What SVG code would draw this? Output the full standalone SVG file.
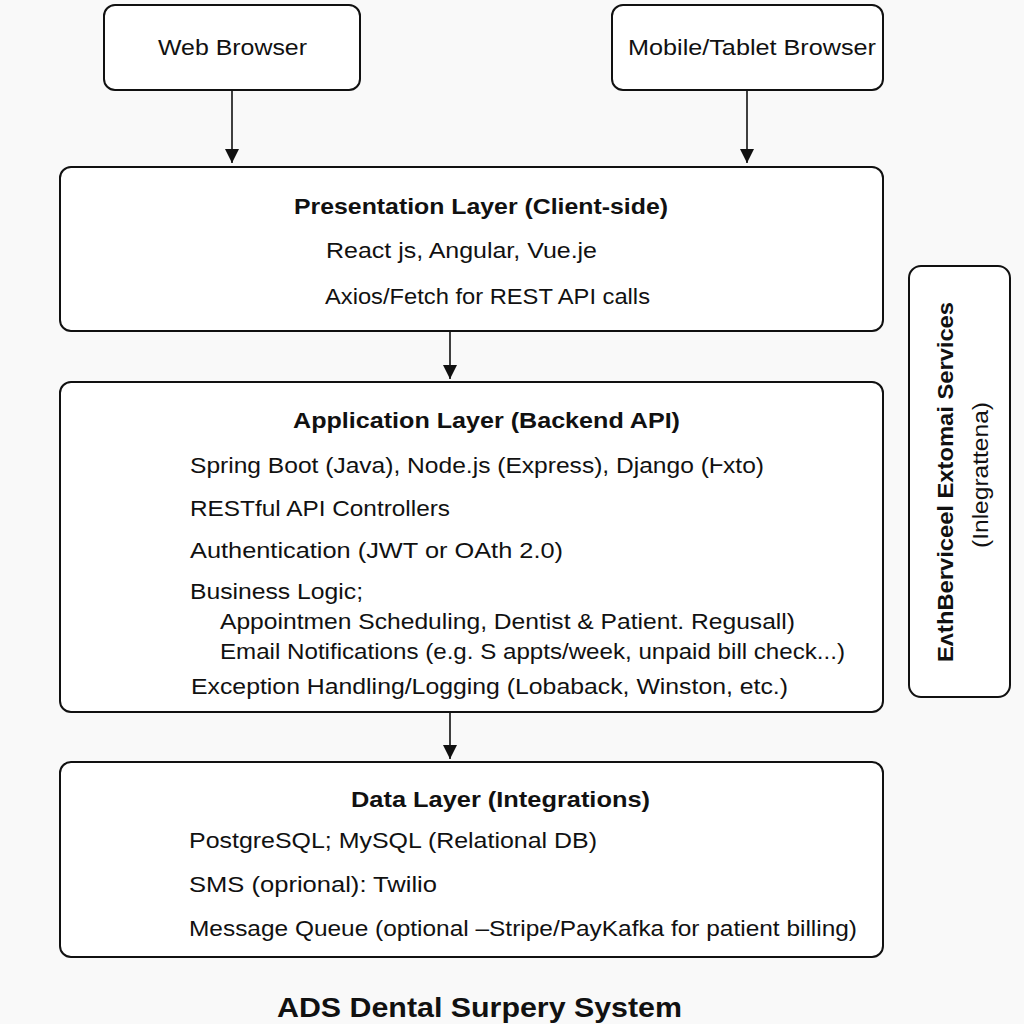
<svg xmlns="http://www.w3.org/2000/svg" width="1024" height="1024" viewBox="0 0 1024 1024">
<style>
.box{fill:#fff;stroke:#111;stroke-width:2}
.t{font-family:"Liberation Sans",Arial,sans-serif;font-size:22px;fill:#111}
.b{font-family:"Liberation Sans",Arial,sans-serif;font-size:22px;font-weight:bold;fill:#111}
.c{stroke:#111;stroke-width:1.6;fill:none}
</style>
<defs>
<marker id="a" viewBox="0 0 14 14" refX="14" refY="7" markerWidth="14" markerHeight="14" orient="auto" markerUnits="userSpaceOnUse">
<path d="M0,0 L14,7 L0,14 z" fill="#111"/>
</marker>
</defs>
<rect width="1024" height="1024" fill="#f9f9f9"/>
<g id="connectors">
<line class="c" x1="232" y1="90" x2="232" y2="163" marker-end="url(#a)"/>
<line class="c" x1="747" y1="90" x2="747" y2="163" marker-end="url(#a)"/>
<line class="c" x1="450" y1="331" x2="450" y2="379" marker-end="url(#a)"/>
<line class="c" x1="450" y1="712" x2="450" y2="759" marker-end="url(#a)"/>
</g>
<g id="web-browser">
<rect class="box" x="104" y="5" width="256" height="85" rx="11"/>
<text class="t" x="158" y="55" textLength="149" lengthAdjust="spacingAndGlyphs">Web Browser</text>
</g>
<g id="mobile-browser">
<rect class="box" x="612" y="5" width="271" height="85" rx="11"/>
<text class="t" x="628" y="55" textLength="248" lengthAdjust="spacingAndGlyphs">Mobile/Tablet Browser</text>
</g>
<g id="presentation-layer">
<rect class="box" x="60" y="167" width="823" height="164" rx="11"/>
<text class="b" x="294" y="214" textLength="374" lengthAdjust="spacingAndGlyphs">Presentation Layer (Client-side)</text>
<text class="t" x="326" y="258" textLength="271" lengthAdjust="spacingAndGlyphs">React js, Angular, Vue.je</text>
<text class="t" x="325" y="304" textLength="325" lengthAdjust="spacingAndGlyphs">Axios/Fetch for REST API calls</text>
</g>
<g id="application-layer">
<rect class="box" x="60" y="382" width="823" height="330" rx="11"/>
<text class="b" x="293" y="428" textLength="387" lengthAdjust="spacingAndGlyphs">Application Layer (Backend API)</text>
<text class="t" x="190" y="473" textLength="574" lengthAdjust="spacingAndGlyphs">Spring Boot (Java), Node.js (Express), Django (Ⱶxto)</text>
<text class="t" x="190" y="516" textLength="260" lengthAdjust="spacingAndGlyphs">RESTful API Controllers</text>
<text class="t" x="190" y="558" textLength="373" lengthAdjust="spacingAndGlyphs">Authentication (JWT or OAth 2.0)</text>
<text class="t" x="190" y="599" textLength="173" lengthAdjust="spacingAndGlyphs">Business Logic;</text>
<text class="t" x="220" y="629" textLength="575" lengthAdjust="spacingAndGlyphs">Appointmen Scheduling, Dentist &amp; Patient. Regusall)</text>
<text class="t" x="220" y="659" textLength="625" lengthAdjust="spacingAndGlyphs">Email Notifications (e.g. S appts/week, unpaid bill check...)</text>
<text class="t" x="191" y="694" textLength="597" lengthAdjust="spacingAndGlyphs">Exception Handling/Logging (Lobaback, Winston, etc.)</text>
</g>
<g id="data-layer">
<rect class="box" x="60" y="762" width="823" height="195" rx="11"/>
<text class="b" x="351" y="807" textLength="299" lengthAdjust="spacingAndGlyphs">Data Layer (Integrations)</text>
<text class="t" x="189" y="848" textLength="408" lengthAdjust="spacingAndGlyphs">PostgreSQL; MySQL (Relational DB)</text>
<text class="t" x="189" y="892" textLength="248" lengthAdjust="spacingAndGlyphs">SMS (oprional): Twilio</text>
<text class="t" x="189" y="936" textLength="668" lengthAdjust="spacingAndGlyphs">Message Queue (optional –Stripe/PayKafka for patient billing)</text>
</g>
<g id="external-services">
<rect class="box" x="909" y="266" width="101" height="431" rx="12"/>
<text class="b" transform="translate(953,662) rotate(-90)" x="0" y="0" textLength="360" lengthAdjust="spacingAndGlyphs">EʌthBerviceel Extomai Services</text>
<text class="t" transform="translate(988,548) rotate(-90)" x="0" y="0" textLength="146" lengthAdjust="spacingAndGlyphs">(Inlegrattena)</text>
</g>
<g id="title">
<text class="b" x="277" y="1017" style="font-size:27px" textLength="405" lengthAdjust="spacingAndGlyphs">ADS Dental Surpery System</text>
</g>
</svg>
